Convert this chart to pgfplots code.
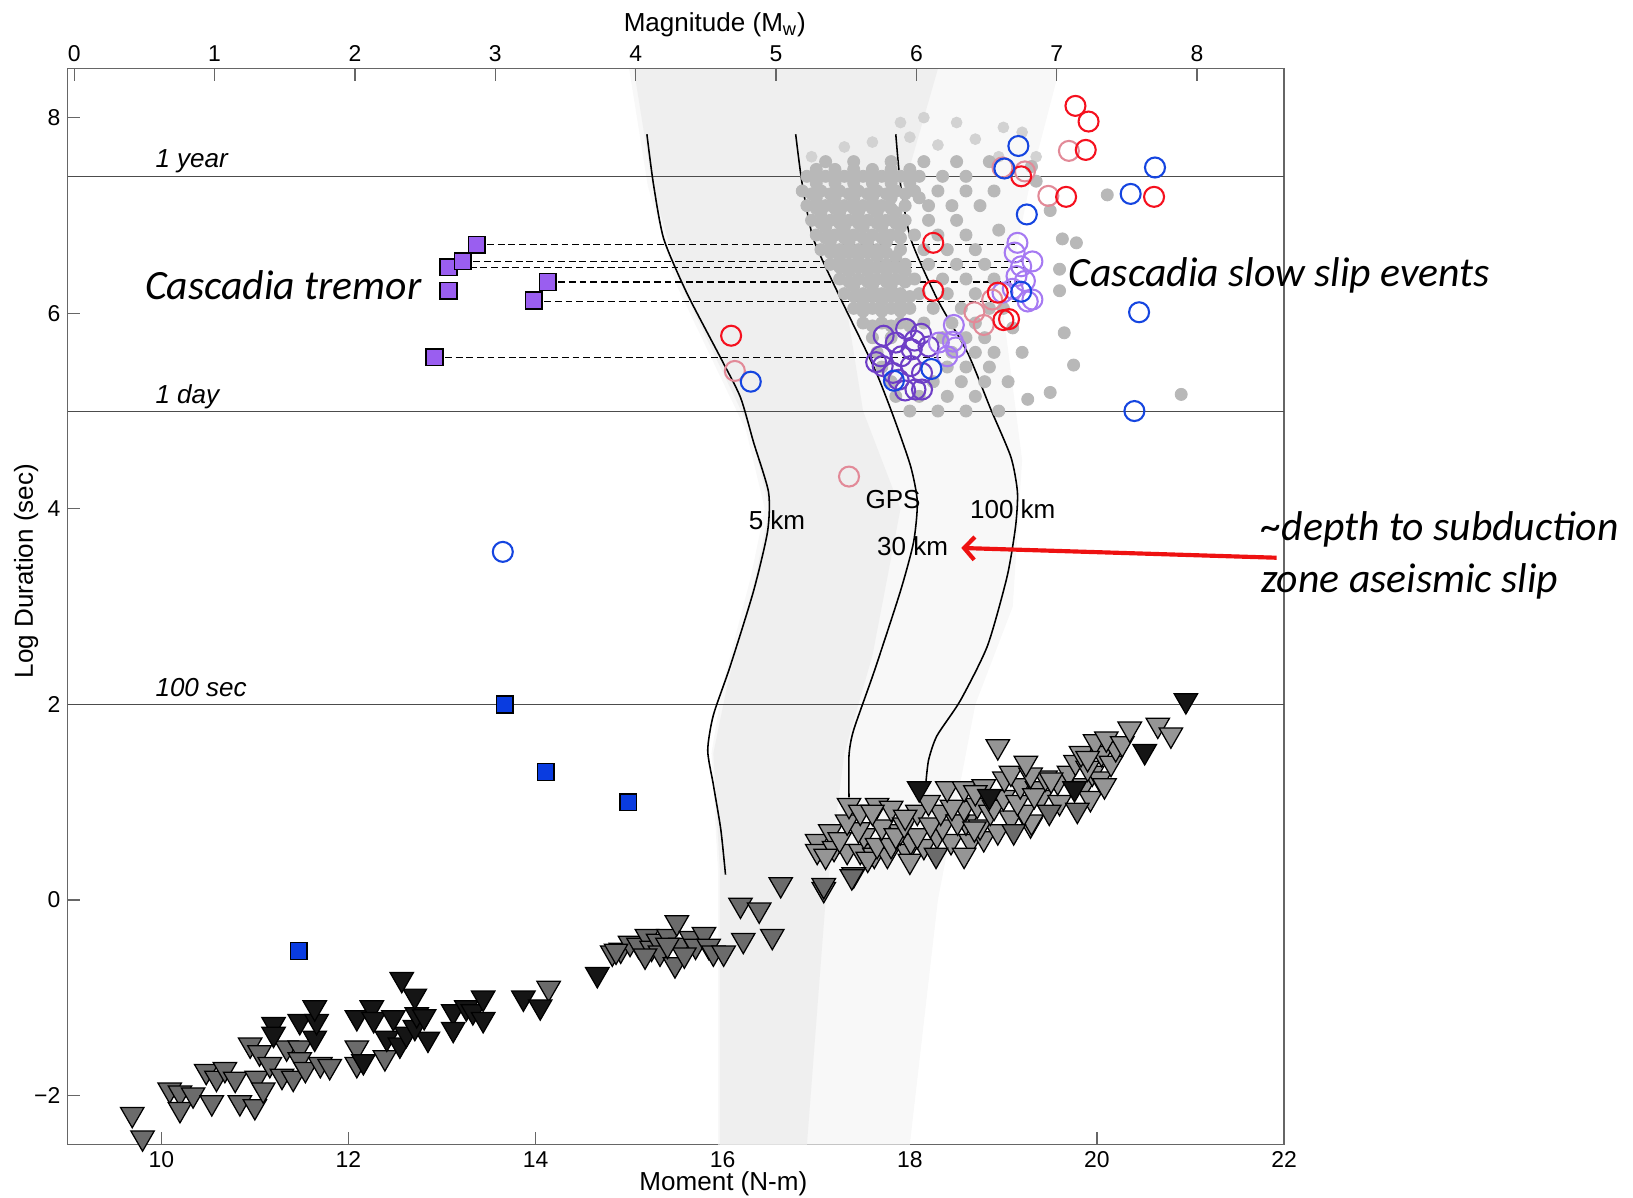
\documentclass[border=0pt]{standalone}
\usepackage{fontspec}
\setmainfont{Liberation Sans}
\newfontfamily\calibri{Carlito}
\usepackage{pgfplots}
\pgfplotsset{compat=1.18}
\usetikzlibrary{arrows.meta}
\definecolor{cloudA}{HTML}{F8F8F8}
\definecolor{cloudB}{HTML}{EFEFEF}
\definecolor{dotgray}{HTML}{B8B8B8}
\definecolor{dotlight}{HTML}{D2D2D2}
\definecolor{cred}{HTML}{F5101E}
\definecolor{cpink}{HTML}{E28A98}
\definecolor{cblue}{HTML}{1545E0}
\definecolor{cpurpL}{HTML}{A67AF2}
\definecolor{cpurpD}{HTML}{6E3EC6}
\definecolor{sqpurp}{HTML}{9A5EF0}
\definecolor{sqblue}{HTML}{0A3CE0}
\definecolor{triL}{HTML}{959595}
\definecolor{triD}{HTML}{6B6B6B}
\definecolor{triK}{HTML}{151515}
\definecolor{arrred}{HTML}{EE1111}
\begin{document}
\begin{tikzpicture}
\useasboundingbox (0,0) rectangle (784pt,575pt);
\begin{axis}[
  at={(32.5pt,25.5pt)}, anchor=south west, scale only axis,
  width=584pt, height=516.5pt,
  xmin=9, xmax=22, ymin=-2.5, ymax=8.5,
  xtick={10,12,...,22}, xticklabels={10,12,14,16,18,20,22},
  ytick={-2,0,...,8}, yticklabels={−2,0,2,4,6,8},
  xtick pos=bottom, ytick pos=left, tick align=inside,
  major tick length=6pt,
  axis line style={draw=black!60, line width=0.7pt},
  major tick style={draw=black!60, line width=0.6pt},
  tick label style={font=\fontsize{11}{13}\selectfont},
  label style={font=\fontsize{12.5}{14}\selectfont},
  xlabel={Moment (N-m)}, ylabel={Log Duration (sec)},
  xlabel style={at={(axis description cs:0.539,0)}, anchor=center, yshift=-19pt},
  ylabel style={at={(axis description cs:0,0.533)}, anchor=center, yshift=20pt},
  clip=false,
]
% background cloud
\addplot[fill=cloudA, draw=none, mark=none] coordinates {
(15.0,8.5) (19.6,8.5) (19.3,7.4) (19.0,6.0) (19.2,4.5) (19.1,3.0) (18.7,2.0) (18.3,0) (18.0,-2.5)
(15.95,-2.5) (15.95,0.3) (15.88,1.5) (16.0,2.2) (16.3,3.3) (16.45,4.0) (16.25,4.8) (15.9,5.5) (15.5,6.3) (15.2,7.3)} -- cycle;
\addplot[fill=cloudB, draw=none, mark=none] coordinates {
(15.05,8.5) (18.3,8.5) (18.0,7.5) (17.3,6.2) (17.5,5.0) (17.9,4.0) (17.6,2.5) (17.3,1.5) (17.1,0) (16.9,-2.5)
(15.97,-2.5) (15.97,0.3) (15.9,1.5) (16.05,2.2) (16.35,3.3) (16.5,4.0) (16.3,4.8) (15.95,5.5) (15.55,6.3) (15.25,7.3)} -- cycle;
% lighter scattered dots above 1 year
\addplot[only marks, mark=*, mark size=2.6pt, color=dotlight] coordinates {
(17.6,7.75) (18.0,7.8) (18.3,7.72) (18.7,7.78) (19.0,7.9) (18.5,7.95) (17.9,7.95) (19.35,7.6) (18.95,7.6)
(17.3,7.7) (18.15,8.0) (19.2,7.85) (16.95,7.6)};
% gray dots
\addplot[only marks, mark=*, mark size=2.9pt, color=dotgray] coordinates {
(17.1,7.55) (17.4,7.55) (17.8,7.55) (18.15,7.55) (18.5,7.55) (18.85,7.55) (19.3,7.5)
(17.0,7.47) (17.2,7.47) (17.4,7.47) (17.6,7.47) (17.8,7.47) (18.0,7.47)
(16.9,7.40) (17.1,7.40) (17.3,7.40) (17.5,7.40) (17.7,7.40) (17.9,7.40) (18.1,7.40) (18.35,7.40) (18.6,7.40) (19.35,7.35)
(17.0,7.37) (17.2,7.37) (17.4,7.37) (17.6,7.37) (17.8,7.37) (18.0,7.37)
(17.0,7.33) (17.2,7.33) (17.4,7.33) (17.6,7.33) (17.8,7.33) (18.0,7.33)
(16.85,7.25) (17.05,7.25) (17.25,7.25) (17.45,7.25) (17.65,7.25) (17.85,7.25) (18.05,7.25) (18.3,7.25) (18.6,7.25) (18.9,7.25)
(16.95,7.22) (17.15,7.22) (17.35,7.22) (17.55,7.22) (17.75,7.22) (17.95,7.22)
(17.0,7.18) (17.2,7.18) (17.4,7.18) (17.6,7.18) (17.8,7.18) (18.1,7.18)
(16.9,7.10) (17.1,7.10) (17.3,7.10) (17.5,7.10) (17.7,7.10) (17.95,7.10) (18.2,7.10) (18.45,7.10) (18.75,7.10) (19.5,7.05)
(17.0,7.07) (17.2,7.07) (17.4,7.07) (17.6,7.07) (17.8,7.07)
(17.05,7.03) (17.25,7.03) (17.45,7.03) (17.65,7.03) (17.85,7.03)
(16.95,6.95) (17.15,6.95) (17.35,6.95) (17.55,6.95) (17.75,6.95) (17.95,6.95) (18.2,6.95) (18.5,6.95)
(17.05,6.92) (17.25,6.92) (17.45,6.92) (17.65,6.92) (17.85,6.92)
(17.1,6.88) (17.3,6.88) (17.5,6.88) (17.7,6.88) (17.9,6.88)
(17.0,6.80) (17.2,6.80) (17.4,6.80) (17.6,6.80) (17.8,6.80) (18.05,6.80) (18.3,6.80) (18.6,6.80) (18.95,6.85)
(17.1,6.77) (17.3,6.77) (17.5,6.77) (17.7,6.77) (17.9,6.77)
(17.15,6.73) (17.35,6.73) (17.55,6.73) (17.75,6.73)
(17.05,6.65) (17.25,6.65) (17.45,6.65) (17.65,6.65) (17.9,6.65) (18.15,6.65) (18.4,6.65) (18.7,6.65)
(17.15,6.62) (17.35,6.62) (17.55,6.62) (17.75,6.62)
(17.25,6.58) (17.45,6.58) (17.65,6.58) (17.85,6.58)
(17.15,6.50) (17.35,6.50) (17.55,6.50) (17.75,6.50) (17.95,6.50) (18.2,6.50) (18.5,6.50) (18.8,6.50) (19.6,6.45)
(17.25,6.47) (17.45,6.47) (17.65,6.47) (17.85,6.47)
(17.35,6.43) (17.55,6.43) (17.75,6.43) (17.95,6.43)
(17.25,6.35) (17.45,6.35) (17.65,6.35) (17.85,6.35) (18.05,6.35) (18.35,6.35) (18.6,6.35) (18.9,6.35)
(17.35,6.32) (17.55,6.32) (17.75,6.32) (17.95,6.32)
(17.4,6.28) (17.6,6.28) (17.8,6.28)
(17.3,6.20) (17.5,6.20) (17.7,6.20) (17.9,6.20) (18.1,6.20) (18.4,6.20) (18.7,6.20) (19.0,6.05)
(17.4,6.17) (17.6,6.17) (17.8,6.17) (18.0,6.17)
(17.5,6.13) (17.7,6.13) (17.9,6.13)
(17.4,6.05) (17.6,6.05) (17.8,6.05) (18.0,6.05) (18.25,6.05) (18.55,6.05) (18.85,6.05)
(17.5,6.02) (17.7,6.02) (17.9,6.02)
(17.5,5.90) (17.7,5.90) (17.9,5.90) (18.15,5.90) (18.45,5.90) (18.7,5.90) (19.1,5.85)
(17.6,5.87) (17.8,5.87) (18.0,5.87)
(17.6,5.75) (17.8,5.75) (18.35,5.75) (18.6,5.75) (18.8,5.75) (19.65,5.8)
(17.65,5.60) (18.45,5.60) (18.7,5.60) (18.9,5.60) (19.2,5.60)
(17.7,5.45) (18.4,5.45) (18.6,5.45) (18.85,5.45) (19.75,5.47)
(17.8,5.30) (18.25,5.30) (18.55,5.30) (18.8,5.30) (19.05,5.30)
(17.85,5.15) (18.1,5.15) (18.4,5.15) (18.7,5.15) (19.5,5.19) (20.9,5.17)
(18.0,5.00) (18.3,5.00) (18.6,5.00) (18.95,5.00)
(20.11,7.21) (19.63,6.76) (19.78,6.72) (19.60,6.23) (19.26,5.12)};
% reference lines
\addplot[black!70, line width=0.5pt, mark=none] coordinates {(9,7.4) (22,7.4)};
\addplot[black!70, line width=0.5pt, mark=none] coordinates {(9,5.0) (22,5.0)};
\addplot[black!70, line width=0.5pt, mark=none] coordinates {(9,2.0) (22,2.0)};
% curves
\addplot[black, line width=0.75pt, mark=none, smooth, tension=0.4] coordinates {
(15.19,7.83) (15.26,7.32) (15.37,6.76) (15.62,6.20) (15.98,5.54) (16.19,5.14) (16.33,4.68) (16.49,4.17)
(16.48,3.77) (16.33,3.16) (16.08,2.39) (15.90,1.89) (15.84,1.53) (15.90,1.18) (15.98,0.72) (16.03,0.26)};
\addplot[black, line width=0.75pt, mark=none, smooth, tension=0.4] coordinates {
(16.78,7.83) (16.85,7.32) (16.97,6.76) (17.26,6.15) (17.62,5.44) (17.83,4.93) (18.01,4.43) (18.08,4.07)
(18.04,3.66) (17.90,3.16) (17.62,2.34) (17.40,1.74) (17.35,1.48) (17.35,1.05)};
\addplot[black, line width=0.75pt, mark=none, smooth, tension=0.4] coordinates {
(17.85,7.83) (17.90,7.32) (18.01,6.76) (18.29,6.15) (18.62,5.59) (18.86,5.03) (19.08,4.53) (19.15,4.17)
(19.13,3.82) (19.04,3.31) (18.83,2.60) (18.54,2.04) (18.29,1.68) (18.20,1.43) (18.17,1.18)};
% dashed tremor lines
\pgfplotsset{dashl/.style={black, line width=0.7pt, mark=none, dash pattern=on 3.3pt off 1.8pt}}
\addplot[dashl] coordinates {(13.37,6.70) (19.15,6.70)};
\addplot[dashl] coordinates {(13.22,6.53) (19.29,6.53)};
\addplot[dashl] coordinates {(13.07,6.47) (19.22,6.47)};
\addplot[dashl] coordinates {(14.13,6.32) (19.15,6.32)};
\addplot[dashl] coordinates {(13.98,6.12) (19.22,6.12)};
\addplot[dashl] coordinates {(12.92,5.55) (18.33,5.55)};
% squares
\addplot[only marks, mark=square*, mark size=4pt, mark options={fill=sqpurp, draw=black, line width=0.7pt}] coordinates {
(13.07,6.23) (13.07,6.47) (13.22,6.53) (13.37,6.70) (13.98,6.13) (14.13,6.32) (12.92,5.55)};
\addplot[only marks, mark=square*, mark size=4pt, mark options={fill=sqblue, draw=black, line width=0.7pt}] coordinates {
(11.47,-0.52) (13.67,2.0) (14.11,1.31) (14.99,1.0)};
% circles
\pgfplotsset{circ/.style={only marks, mark=o, mark size=4.8pt, mark options={draw=#1, line width=1pt}}}
\addplot[circ=cpurpD] coordinates {
(17.72,5.77) (17.96,5.84) (18.12,5.79) (17.69,5.56) (17.71,5.46) (17.91,5.56) (18.02,5.63) (18.20,5.66) (18.01,5.46)
(18.13,5.39) (17.88,5.32) (18.06,5.22) (17.95,5.21) (18.13,5.22) (17.82,5.39) (17.64,5.50) (17.85,5.70) (18.05,5.72)};
\addplot[circ=cpurpL] coordinates {
(19.15,6.72) (19.12,6.62) (19.31,6.53) (19.19,6.48) (19.14,6.38) (19.23,6.33) (18.99,6.21) (19.10,6.25) (19.31,6.14) (19.26,6.12)
(18.47,5.88) (18.46,5.71) (18.31,5.70) (18.49,5.65) (18.40,5.56)};
\addplot[circ=cpink] coordinates {
(19.70,7.66) (18.99,7.49) (19.23,7.45) (19.48,7.20) (18.69,6.01) (18.79,5.88) (18.88,6.14) (16.13,5.41) (17.35,4.33)};
\addplot[circ=cred] coordinates {
(19.77,8.12) (19.91,7.96) (19.88,7.67) (19.19,7.40) (19.67,7.19) (20.61,7.19) (18.25,6.72) (18.25,6.23)
(18.94,6.21) (19.00,5.93) (19.06,5.94) (16.09,5.77)};
\addplot[circ=cblue] coordinates {
(19.16,7.71) (19.01,7.48) (20.62,7.49) (20.36,7.22) (19.25,7.01) (20.45,6.01) (20.40,5.00) (18.23,5.43)
(17.83,5.31) (16.30,5.30) (13.65,3.56) (19.19,6.22)};
% triangles
\pgfplotsset{tri/.style={only marks, mark=triangle*, mark size=6.5pt, mark options={rotate=180, fill=#1, draw=black, line width=0.6pt}}}
\addplot[tri=triD] coordinates {
(9.69,-2.19) (9.80,-2.43) (10.09,-1.94) (10.20,-1.97) (10.20,-2.14) (10.34,-1.99) (10.48,-1.75) (10.54,-2.07)
(10.59,-1.82) (10.68,-1.73) (10.79,-1.83) (10.84,-2.07) (10.95,-1.48) (11.00,-2.11) (11.02,-1.82) (11.09,-1.94)
(11.05,-1.56) (11.16,-1.68) (11.29,-1.80) (11.34,-1.51) (11.41,-1.82) (11.48,-1.51) (11.48,-1.63) (11.54,-1.73)
(11.70,-1.68) (11.80,-1.70) (12.09,-1.68) (12.09,-1.51) (12.39,-1.61) (14.14,-0.90)
(14.82,-0.54) (14.91,-0.51) (15.01,-0.44) (15.10,-0.46) (15.19,-0.37) (15.24,-0.49) (15.31,-0.42) (15.33,-0.54)
(15.42,-0.37) (15.51,-0.23) (15.49,-0.66) (15.55,-0.46) (15.66,-0.39) (15.71,-0.47) (15.80,-0.35) (15.85,-0.47)
(15.90,-0.54) (16.01,-0.54) (15.59,-0.56) (15.17,-0.57) (15.41,-0.46) (14.86,-0.52)
(16.62,0.16) (17.08,0.11) (16.19,-0.05) (16.39,-0.10) (16.22,-0.41) (16.53,-0.37)};
\addplot[tri=triK] coordinates {
(11.64,-1.41) (12.16,-1.65) (12.41,-1.41) (12.55,-1.48) (12.62,-1.37) (12.85,-1.42) (12.71,-1.30)
(11.20,-1.27) (11.20,-1.37) (11.48,-1.24) (11.66,-1.24) (11.64,-1.10) (12.09,-1.20) (12.25,-1.10) (12.27,-1.22)
(12.48,-1.20) (12.73,-1.17) (12.81,-1.19) (12.71,-0.98) (12.57,-0.81) (13.12,-1.14) (13.12,-1.32) (13.26,-1.10)
(13.33,-1.14) (13.44,-1.00) (13.44,-1.22) (13.87,-1.00) (14.05,-1.09) (14.66,-0.76)};
\addplot[tri=triL] coordinates {
(17.01,0.60) (17.15,0.70) (17.01,0.50) (17.19,0.53) (17.33,0.50) (17.47,0.50) (17.62,0.46) (17.76,0.46)
(17.97,0.50) (18.01,0.60) (17.1,0.45) (17.55,0.42) (18.0,0.40) (18.15,0.55) (17.51,0.66) (17.65,0.56) (17.80,0.56)
(17.90,0.70) (18.08,0.66) (18.29,0.66) (18.44,0.60) (18.65,0.60) (18.58,0.46) (18.79,0.63) (18.94,0.70) (19.29,0.77)
(17.25,0.62) (17.45,0.72) (17.7,0.75) (17.85,0.66) (18.35,0.75) (18.6,0.80) (18.75,0.75) (19.3,0.80)
(17.33,0.80) (17.35,0.97) (17.47,0.90) (17.65,0.97) (17.80,0.94) (17.94,0.77) (18.08,0.90) (18.22,0.77)
(18.33,0.90) (18.51,0.80) (18.58,0.94) (18.72,0.97) (18.69,0.73) (18.86,0.90) (19.08,0.84) (19.22,0.90)
(17.6,0.90) (17.95,0.85) (18.2,1.00) (18.45,0.95) (18.9,0.95) (19.0,1.05) (19.15,1.00) (19.4,1.05) (19.6,1.00)
(18.40,1.14) (18.58,1.14) (18.79,1.16) (19.01,1.24) (19.18,1.17) (19.36,1.14) (19.58,1.21) (19.86,1.17)
(19.93,1.04) (19.33,1.07) (18.7,1.10) (19.45,1.25) (19.7,1.30) (19.95,1.30) (20.03,1.24) (20.08,1.17)
(19.08,1.30) (19.29,1.28) (19.51,1.23) (19.24,1.40) (18.94,1.57) (19.77,1.41) (19.90,1.35) (19.83,1.50)
(20.05,1.50) (19.98,1.62) (20.15,1.40) (20.2,1.55) (19.9,1.45) (20.1,1.65) (20.27,1.60) (20.35,1.75)
(20.65,1.79) (20.79,1.69)};
\addplot[tri=triD] coordinates {
(19.79,0.92) (19.49,0.90) (19.11,0.70) (18.28,0.46) (17.40,0.26) (17.08,0.15) (17.38,0.24)};
\addplot[tri=triK] coordinates {
(20.95,2.04) (20.51,1.52) (19.76,1.14) (18.85,1.06) (18.10,1.14)};
% annotations
\node[anchor=base west, font=\fontsize{12.5}{14}\selectfont\itshape, yshift=4pt] at (axis cs:9.86,7.4) {1 year};
\node[anchor=base west, font=\fontsize{12.5}{14}\selectfont\itshape, yshift=3.5pt] at (axis cs:9.86,5.0) {1 day};
\node[anchor=base west, font=\fontsize{12.5}{14}\selectfont\itshape, yshift=4pt] at (axis cs:9.86,2.0) {100 sec};
\node[font=\fontsize{12.5}{14}\selectfont] at (axis cs:16.58,3.88) {5 km};
\node[font=\fontsize{12.5}{14}\selectfont] at (axis cs:17.82,4.09) {GPS};
\node[font=\fontsize{12.5}{14}\selectfont] at (axis cs:18.03,3.62) {30 km};
\node[font=\fontsize{12.5}{14}\selectfont] at (axis cs:19.10,4.00) {100 km};
\node[anchor=east, font=\calibri\itshape\fontsize{20}{24}\selectfont] at (axis cs:12.86,6.29) {Cascadia tremor};
\node[anchor=west, font=\calibri\itshape\fontsize{20}{24}\selectfont] at (axis cs:19.62,6.39) {Cascadia slow slip events};
\node[anchor=west, align=left, inner sep=0pt, font=\calibri\itshape\fontsize{20}{25}\selectfont] at (axis cs:21.75,3.52) {\textasciitilde depth to subduction\\zone aseismic slip};
\draw[arrred, line width=2pt, -{Straight Barb[length=5pt,width=11pt]}] (axis cs:21.92,3.50) -- (axis cs:18.55,3.60);
\end{axis}
\begin{axis}[
  at={(32.5pt,25.5pt)}, anchor=south west, scale only axis,
  width=584pt, height=516.5pt,
  xmin=-0.04667, xmax=8.62, ymin=0, ymax=1,
  axis x line*=top, axis y line=none,
  xtick={0,...,8}, xticklabels={0,1,2,3,4,5,6,7,8},
  tick align=inside, major tick length=6pt,
  axis line style={draw=black!60, line width=0.7pt},
  major tick style={draw=black!60, line width=0.6pt},
  tick label style={font=\fontsize{11}{13}\selectfont},
  label style={font=\fontsize{12.5}{14}\selectfont},
  xlabel={Magnitude (M\textsubscript{w})},
  xlabel style={at={(axis description cs:0.532,1)}, anchor=center, yshift=21pt},
]
\addplot[draw=none, mark=none] coordinates {(0,0) (1,1)};
\end{axis}
\end{tikzpicture}
\end{document}
